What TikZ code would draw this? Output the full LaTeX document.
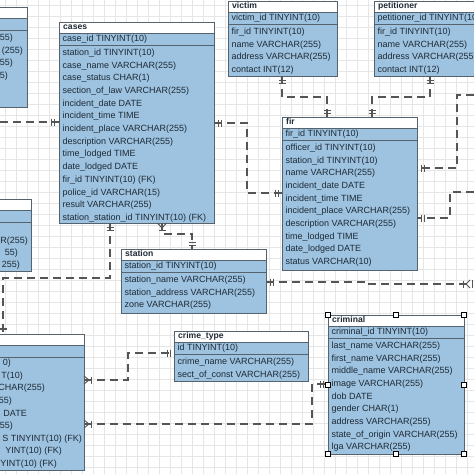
\documentclass[tikz,border=0pt]{standalone}
\usepackage{fontspec}
\setmainfont{Liberation Sans}
\usetikzlibrary{calc}
\definecolor{tblfill}{HTML}{9DC3E0}
\definecolor{tbledge}{HTML}{55636F}
\definecolor{gridc}{HTML}{E6E6E6}
\definecolor{linec}{HTML}{555555}
\definecolor{txtc}{HTML}{1E2A36}
\newcommand\ertable[6]{%
  \node[tbl, minimum width=#4pt, minimum height=#5pt] (#1) at (#2,#3) {};
  \fill[white] (#1.north west) rectangle ($(#1.north east)+(0,11)$);
  \draw[tbledge, line width=0.6pt] ($(#1.north west)+(0,11)$) -- ($(#1.north east)+(0,11)$);
  \draw[tbledge, line width=1pt] ($(#1.north west)+(0,23)$) -- ($(#1.north east)+(0,23)$);
  \draw[tbledge, line width=0.9pt] (#1.north west) rectangle (#1.south east);
  \node[ttl] (#1-t) at ($(#1.north west)+(4,5.5)$) {#6};
}
\newcommand\errows[2]{%
  \foreach \rowtext [count=\ri from 0] in {#2} {%
    \node[row] (#1-\ri) at ($(#1.north west)+(3.5,{\ri==0?17.5:18.3+\ri*12.7})$) {\rowtext};
  }%
}
\newcommand\vtick[1]{\draw[tick] ($#1+(0,-3.5)$) -- ($#1+(0,3.5)$);}
\newcommand\htick[1]{\draw[tick] ($#1+(-3.5,0)$) -- ($#1+(3.5,0)$);}
\begin{document}
\begin{tikzpicture}[x=1pt,y=-1pt,
  tbl/.style={fill=tblfill, anchor=north west, inner sep=0pt, outer sep=0pt, draw=none},
  row/.style={anchor=west, inner sep=0pt, font=\fontsize{9}{10}\selectfont, text=txtc, text height=6.5pt, text depth=1.8pt},
  rowe/.style={row, anchor=east},
  ttl/.style={row, font=\fontsize{8.6}{10}\selectfont\bfseries},
  conn/.style={draw=linec, line width=1.2pt, dash pattern=on 8pt off 5pt},
  tick/.style={draw=linec, line width=1pt},
  handle/.style={draw=black, fill=white, line width=0.8pt, minimum size=5pt, inner sep=0pt}
]
\useasboundingbox (0,0) rectangle (474,474);
\clip (0,0) rectangle (474,474);
\fill[white] (0,0) rectangle (474,474);
\foreach \g in {5,16,...,474} {
  \draw[gridc, line width=0.4pt] (\g,0) -- (\g,474);
  \draw[gridc, line width=0.4pt] (0,\g) -- (474,\g);
}

% ---------- tables ----------
\ertable{tl}{-80}{7}{107}{100}{}
\node[rowe] (tl-1) at (13,38) {55)};
\node[rowe] (tl-2) at (23,51) {(255)};
\node[rowe] (tl-3) at (13,63) {55)};
\node[rowe] (tl-4) at (8,76) {5)};

\ertable{cases}{59}{22}{155}{201}{cases}
\errows{cases}{case\_id TINYINT(10), station\_id TINYINT(10), case\_name VARCHAR(255), case\_status CHAR(1), section\_of\_law VARCHAR(255), incident\_date DATE, incident\_time TIME, incident\_place VARCHAR(255), description VARCHAR(255), time\_lodged TIME, date\_lodged DATE, fir\_id TINYINT(10) (FK), police\_id VARCHAR(15), result VARCHAR(255), station\_station\_id TINYINT(10) (FK)}

\ertable{victim}{228}{1}{109}{75}{victim}
\errows{victim}{victim\_id TINYINT(10), fir\_id TINYINT(10), name VARCHAR(255), address VARCHAR(255), contact INT(12)}

\ertable{petitioner}{374}{1}{112}{75}{petitioner}
\errows{petitioner}{petitioner\_id TINYINT(10), fir\_id TINYINT(10), name VARCHAR(255), address VARCHAR(255), contact INT(12)}

\ertable{fir}{282}{117}{135}{153}{fir}
\errows{fir}{fir\_id TINYINT(10), officer\_id TINYINT(10), station\_id TINYINT(10), name VARCHAR(255), incident\_date DATE, incident\_time TIME, incident\_place VARCHAR(255), description VARCHAR(255), time\_lodged TIME, date\_lodged DATE, status VARCHAR(10)}

\ertable{lm}{-80}{199}{111}{72}{}
\node[rowe] (lm-2) at (28,241) {R(255)};
\node[rowe] (lm-3) at (18,253) {55)};
\node[rowe] (lm-4) at (20,265) {255)};

\ertable{station}{121}{249}{145}{64}{station}
\errows{station}{station\_id TINYINT(10), station\_name VARCHAR(255), station\_address VARCHAR(255), zone VARCHAR(255)}

\ertable{crime}{174}{331}{134}{50}{crime\_type}
\errows{crime}{id TINYINT(10), crime\_name VARCHAR(255), sect\_of\_const VARCHAR(255)}

\ertable{criminal}{328}{315}{136}{139}{criminal}
\errows{criminal}{criminal\_id TINYINT(10), last\_name VARCHAR(255), first\_name VARCHAR(255), middle\_name VARCHAR(255), image VARCHAR(255), dob DATE, gender CHAR(1), address VARCHAR(255), state\_of\_origin VARCHAR(255), lga VARCHAR(255)}

\ertable{bl}{-80}{334}{164}{136}{}
\node[rowe] (bl-1) at (11,363) {0)};
\node[rowe] (bl-2) at (23,376) {T(10)};
\node[rowe] (bl-3) at (45,388) {CHAR(255)};
\node[rowe] (bl-4) at (12,401) {55)};
\node[rowe] (bl-5) at (27,414) {DATE};
\node[rowe] (bl-6) at (13,426) {55)};
\node[rowe] (bl-7) at (82,439) {S TINYINT(10) (FK)};
\node[rowe] (bl-8) at (62,451) {YINT(10) (FK)};
\node[rowe] (bl-9) at (57,464) {YINT(10) (FK)};

% selection handles on criminal
\node[handle] (hnw) at (criminal.north west) {};
\node[handle] (hn) at (criminal.north) {};
\node[handle] (hne) at (criminal.north east) {};
\node[handle] (hw) at (criminal.west) {};
\node[handle] (he) at (criminal.east) {};
\node[handle] (hsw) at (criminal.south west) {};
\node[handle] (hs) at (criminal.south) {};
\node[handle] (hse) at (criminal.south east) {};

% ---------- connectors ----------
% a: from left to cases
\coordinate (aL) at (0,122);
\draw[conn] (aL) -- (cases.west |- aL);
\vtick{(cases.west |- aL)+(-5,0)}
\vtick{(cases.west |- aL)+(-8,0)}

% b: cases -> fir
\coordinate (bK1) at (247,123);
\coordinate (bK2) at (247,193);
\draw[conn] (cases.east |- bK1) -- (bK1) -- (bK2) -- (fir.west |- bK2);
\vtick{(cases.east |- bK1)+(4,0)}
\vtick{(cases.east |- bK1)+(7,0)}
\vtick{(fir.west |- bK2)+(-4,0)}
\vtick{(fir.west |- bK2)+(-7,0)}

% c: victim -> fir
\coordinate (cK1) at (282,97);
\coordinate (cK2) at (327,97);
\draw[conn] (victim.south -| cK1) -- (cK1) -- (cK2) -- (fir.north -| cK2);
\htick{(victim.south -| cK1)+(0,4)}
\htick{(victim.south -| cK1)+(0,7)}
\htick{(fir.north -| cK2)+(0,-4)}
\htick{(fir.north -| cK2)+(0,-7)}

% d: petitioner -> fir
\coordinate (dK1) at (430,97);
\coordinate (dK2) at (372,97);
\draw[conn] (petitioner.south -| dK1) -- (dK1) -- (dK2) -- (fir.north -| dK2);
\htick{(petitioner.south -| dK1)+(0,4)}
\htick{(petitioner.south -| dK1)+(0,7)}
\htick{(fir.north -| dK2)+(0,-4)}
\htick{(fir.north -| dK2)+(0,-7)}

% e: right -> fir
\coordinate (eR) at (474,95);
\coordinate (eK1) at (457,95);
\coordinate (eK2) at (457,168);
\draw[conn] (eR) -- (eK1) -- (eK2) -- (fir.east |- eK2);
\vtick{(fir.east |- eK2)+(4,0)}
\vtick{(fir.east |- eK2)+(7,0)}

% f: right -> fir
\coordinate (fR) at (474,192);
\coordinate (fK1) at (450,192);
\coordinate (fK2) at (450,218);
\draw[conn] (fR) -- (fK1) -- (fK2) -- (fir.east |- fK2);
\vtick{(fir.east |- fK2)+(4,0)}
\vtick{(fir.east |- fK2)+(7,0)}

% g: station -> right
\coordinate (gK1) at (367,282);
\coordinate (gK2) at (367,284);
\coordinate (gR) at (470,284);
\draw[conn] (station.east |- gK1) -- (gK1) -- (gK2) -- (gR);
\vtick{(station.east |- gK1)+(4,0)}
\vtick{(station.east |- gK1)+(7,0)}
\vtick{(gR)+(-7,0)}
\draw[tick] ($(gR)+(-4,0)$) -- ($(gR)+(0,-4)$);
\draw[tick] ($(gR)+(-4,0)$) -- ($(gR)+(0,4)$);
\draw[tick] ($(gR)+(2,-4)$) -- ($(gR)+(2,4)$);

% h: cases -> bottom-left table
\coordinate (hK1) at (110,278);
\coordinate (hK2) at (3,278);
\draw[conn] (cases.south -| hK1) -- (hK1) -- (hK2) -- (bl.north -| hK2);
\htick{(cases.south -| hK1)+(0,4)}
\htick{(cases.south -| hK1)+(0,7)}
\draw[tick, line width=1.6pt] ($(bl.north -| hK2)+(-3,-5)$) -- ($(bl.north -| hK2)+(4,-5)$);

% i: cases -> station
\coordinate (iK1) at (162,234);
\coordinate (iK2) at (192,234);
\draw[conn] (cases.south -| iK1) -- (iK1) -- (iK2) -- (station.north -| iK2);
\draw[tick] ($(cases.south -| iK1)+(-4.5,0)$) -- ($(cases.south -| iK1)+(0,5)$) -- ($(cases.south -| iK1)+(4.5,0)$);
\draw[tick] ($(cases.south -| iK1)+(0,0)$) -- ($(cases.south -| iK1)+(0,5)$);
\htick{(cases.south -| iK1)+(0,7)}
\htick{(station.north -| iK2)+(0,-4)}
\htick{(station.north -| iK2)+(0,-7)}

% j: bottom-left -> crime_type
\coordinate (jK1) at (128,380);
\coordinate (jK2) at (128,353);
\draw[conn] (bl.east |- jK1) -- (jK1) -- (jK2) -- (crime.west |- jK2);
\draw[tick] ($(bl.east |- jK1)+(0,-4)$) -- ($(bl.east |- jK1)+(5,0)$) -- ($(bl.east |- jK1)+(0,4)$);
\vtick{(bl.east |- jK1)+(7,0)}
\vtick{(crime.west |- jK2)+(-4,0)}
\vtick{(crime.west |- jK2)+(-7,0)}

% k: bottom-left -> criminal
\coordinate (kK1) at (312,424);
\coordinate (kK2) at (312,384);
\draw[conn] (bl.east |- kK1) -- (kK1) -- (kK2) -- (criminal.west |- kK2);
\draw[tick] ($(bl.east |- kK1)+(0,-4)$) -- ($(bl.east |- kK1)+(5,0)$) -- ($(bl.east |- kK1)+(0,4)$);
\vtick{(bl.east |- kK1)+(7,0)}
\vtick{(criminal.west |- kK2)+(-5,0)}
\vtick{(criminal.west |- kK2)+(-8,0)}
\end{tikzpicture}
\end{document}
